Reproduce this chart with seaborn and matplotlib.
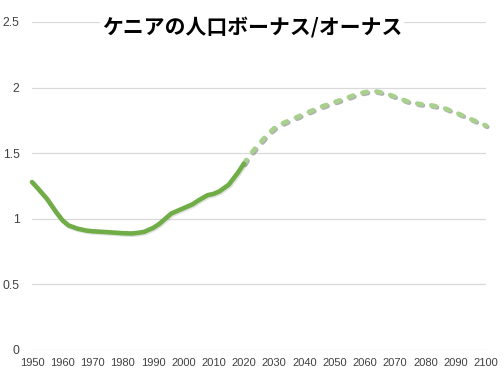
import matplotlib
matplotlib.use("Agg")
import matplotlib.pyplot as plt
import matplotlib.patheffects as pe
import seaborn as sns
import pandas as pd

# Data
years_actual = [1950, 1952, 1955, 1958, 1960, 1962, 1965, 1968, 1970, 1975,
                1980, 1983, 1985, 1987, 1990, 1992, 1994, 1996, 1998, 2000,
                2003, 2005, 2008, 2010, 2012, 2015, 2018, 2020]
values_actual = [1.28, 1.23, 1.15, 1.05, 0.99, 0.95, 0.925, 0.91, 0.905, 0.898,
                 0.89, 0.888, 0.893, 0.90, 0.93, 0.96, 1.00, 1.04, 1.06, 1.08,
                 1.11, 1.14, 1.18, 1.19, 1.21, 1.26, 1.35, 1.42]
years_proj = [2020, 2022, 2025, 2028, 2030, 2033, 2036, 2040, 2045, 2050,
              2055, 2058, 2061, 2064, 2067, 2070, 2074, 2078, 2082, 2086,
              2090, 2094, 2097, 2100]
values_proj = [1.42, 1.49, 1.57, 1.65, 1.69, 1.73, 1.76, 1.80, 1.85, 1.89,
               1.93, 1.955, 1.97, 1.97, 1.955, 1.93, 1.895, 1.875, 1.865, 1.845,
               1.81, 1.77, 1.74, 1.71]
x_ticks = list(range(1950, 2101, 10))
y_ticks = [0, 0.5, 1, 1.5, 2, 2.5]
y_labels = ["0", "0.5", "1", "1.5", "2", "2.5"]
title = "ケニアの人口ボーナス/オーナス"

sns.set_theme(style="white")
plt.rcParams['font.family'] = ['Noto Sans CJK JP', 'DejaVu Sans']

fig = plt.figure(figsize=(5.04, 3.75), dpi=100)
ax = fig.add_axes([32 / 504, 1 - 350 / 375, (486 - 32) / 504, (350 - 22) / 375])

df_a = pd.DataFrame({"year": years_actual, "value": values_actual})
df_p = pd.DataFrame({"year": years_proj, "value": values_proj})

sns.lineplot(data=df_p, x="year", y="value", ax=ax, color="#A9D18E",
             linewidth=3.3, linestyle=(0, (1.0, 2.1)), zorder=3)
sns.lineplot(data=df_a, x="year", y="value", ax=ax, color="#70AD47",
             linewidth=3.3, zorder=4)
for i, ln in enumerate(ax.lines):
    ln.set_solid_capstyle("round")
    ln.set_solid_joinstyle("round")
    ln.set_dash_capstyle("round")
    ln.set_clip_on(False)
    a = 0.55 if i == 0 else 0.2
    ln.set_path_effects([pe.SimpleLineShadow(offset=(0.9, -0.9), shadow_color="#707070", alpha=a),
                         pe.Normal()])

ax.set_xlim(1950, 2100)
ax.set_ylim(0, 2.5)
ax.set_xticks(x_ticks)
ax.set_xticklabels([str(y) for y in x_ticks])
ax.set_yticks(y_ticks)
ax.set_yticklabels(y_labels)
ax.set_xlabel("")
ax.set_ylabel("")
ax.yaxis.grid(True, color="#D9D9D9", linewidth=0.9)
ax.xaxis.grid(False)
for s in ax.spines.values():
    s.set_visible(False)
ax.tick_params(axis="x", length=0, pad=6, labelsize=8, labelcolor="#404040")
ax.tick_params(axis="y", length=0, pad=9, labelsize=8.8, labelcolor="#404040")
for lab in ax.get_xticklabels() + ax.get_yticklabels():
    lab.set_family(['Liberation Sans Narrow', 'Liberation Sans', 'DejaVu Sans'])
for lab in ax.get_yticklabels():
    lab.set_family(['Liberation Sans', 'DejaVu Sans'])

fig.text(0.5, 1 - 27 / 375, title, ha="center", va="center", fontsize=15,
         fontweight="bold", color="black", family=['Noto Sans CJK JP', 'DejaVu Sans'],
         bbox=dict(facecolor="white", edgecolor="none", pad=1.0), zorder=10)

fig.savefig("out.png", dpi=100, facecolor="white")
